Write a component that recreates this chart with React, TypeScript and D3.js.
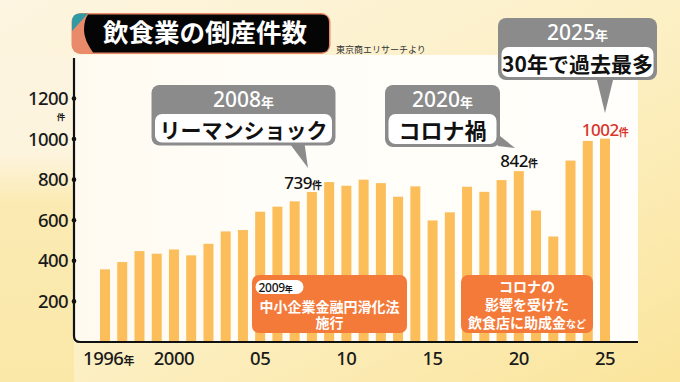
import React from "react";
import * as d3 from "d3";

const years = [1996,1997,1998,1999,2000,2001,2002,2003,2004,2005,2006,2007,2008,2009,2010,2011,2012,2013,2014,2015,2016,2017,2018,2019,2020,2021,2022,2023,2024,2025];
const values = [358,394,448,435,456,427,484,545,552,642,667,693,739,788,770,800,783,716,767,599,639,765,740,798,842,648,520,894,991,1002];
const yTicks = [200,400,600,800,1000,1200];
const xTickYears = [1996,2000,2005,2010,2015,2020,2025];
const xTickLabels = ["1996","2000","05","10","15","20","25"];

const W = 680, H = 382;
const JP = "'Noto Sans CJK JP', 'Noto Sans', sans-serif";
const NUM = "'Noto Sans', 'Open Sans', sans-serif";
const BAR = "#fbbe5b";
const ORANGE = "#f47a3a";
const GRAY = "#8b8b8b";

export default function App() {
  const step = 500 / 29;
  const x = d3.scaleBand<number>().domain(years).range([105 - step / 2, 605 + step / 2]).paddingInner(0.42).paddingOuter(0.21);
  const y = d3.scaleLinear().domain([0, 1200]).range([342, 98.5]);
  const bw = x.bandwidth();
  const cx = (yr: number) => (x(yr) as number) + bw / 2;
  const v = (yr: number) => values[years.indexOf(yr)];

  const callout = (x0: number, y0: number, x1: number, y1: number, yearLabel: string, text: string, fs: number, tail: string) => (
    <g>
      <path d={tail} fill={GRAY} />
      <rect x={x0} y={y0} width={x1 - x0} height={y1 - y0} rx={8} fill={GRAY} />
      <rect x={x0 + 3.5} y={y0 + 29} width={x1 - x0 - 7} height={y1 - y0 - 32} rx={7} fill="#fff" />
      <text x={(x0 + x1) / 2} y={y0 + 22} textAnchor="middle" fill="#fff" fontFamily={NUM} fontSize={21} fontWeight={500}>
        {yearLabel}<tspan fontFamily={JP} fontSize={13} fontWeight={700}>年</tspan>
      </text>
      <text x={(x0 + x1) / 2} y={y1 - 8} textAnchor="middle" fill="#111" fontFamily={JP} fontSize={fs} fontWeight={700}>{text}</text>
    </g>
  );

  return (
    <svg width={W} height={H} style={{ position: "fixed", left: 0, top: 0 }} xmlns="http://www.w3.org/2000/svg">
      <defs>
        <linearGradient id="bg" x1="0" y1="0" x2="1" y2="1">
          <stop offset="0" stopColor="#fdf5e1" />
          <stop offset="0.5" stopColor="#fcf0c6" />
          <stop offset="1" stopColor="#fbe59c" />
        </linearGradient>
        <linearGradient id="plot" x1="0" y1="0" x2="1" y2="0">
          <stop offset="0" stopColor="#fffaf0" />
          <stop offset="0.3" stopColor="#fffdf7" />
          <stop offset="1" stopColor="#fffefa" />
        </linearGradient>
        <linearGradient id="leftFade" x1="0" y1="0" x2="0" y2="1">
          <stop offset="0" stopColor="#fdf4df" stopOpacity="1" />
          <stop offset="0.3" stopColor="#fdf4df" stopOpacity="0.9" />
          <stop offset="0.45" stopColor="#fbebb3" stopOpacity="1" />
          <stop offset="1" stopColor="#fae8a8" stopOpacity="1" />
        </linearGradient>
      </defs>
      <rect x={0} y={0} width={W} height={H} fill="url(#bg)" />
      <rect x={0} y={55} width={74} height={327} fill="url(#leftFade)" />
      <rect x={74} y={55} width={564} height={287} fill="url(#plot)" />

      {/* title */}
      <rect x={71.5} y={13} width={259} height={41} rx={9} fill="#e98a6b" />
      <path d="M88,14.5 L321,14.5 Q329,14.5 329,22.5 L329,45 Q329,52.5 321,52.5 L93,52.5 Q84,40 84,30 Q84,20 88,14.5 Z" fill="#050505" />
      <path d="M80,13.5 L88,13.5 L72,31 L72,21.5 Q72,13.5 80,13.5 Z" fill="#2f9aa3" />
      <text x={103} y={42} fill="#fff" fontFamily={JP} fontSize={25.5} fontWeight={700}>飲食業の倒産件数</text>
      <text x={336} y={53} fill="#333" fontFamily={JP} fontSize={9}>東京商エリサーチより</text>

      {/* bars */}
      {years.map((yr, i) => (
        <rect key={yr} x={x(yr)} y={y(values[i])} width={bw} height={y(0) - y(values[i])} fill={BAR} />
      ))}

      {/* axes */}
      <path d="M74,58 L74,336 Q74,342 80,342 L638,342" fill="none" stroke="#111" strokeWidth={2.2} />
      {yTicks.map((t) => (
        <g key={t}>
          <circle cx={74} cy={y(t)} r={2.3} fill="#111" />
          <text x={68} y={y(t) + 6.5} textAnchor="end" fill="#1a1a1a" fontFamily={NUM} fontSize={18.5} fontWeight={500} letterSpacing={-0.6}>{t}</text>
        </g>
      ))}
      <text x={61} y={120} textAnchor="middle" fill="#1a1a1a" fontFamily={JP} fontSize={8.5} fontWeight={700}>件</text>
      {xTickYears.map((yr, i) => (
        <text key={yr} x={cx(yr) + (i === 0 ? 3.5 : 0)} y={365} textAnchor="middle" fill="#1a1a1a" fontFamily={NUM} fontSize={18.5} fontWeight={500} letterSpacing={-0.5}>
          {xTickLabels[i]}{i === 0 ? <tspan fontFamily={JP} fontSize={11} fontWeight={700}>年</tspan> : null}
        </text>
      ))}

      {/* value labels */}
      <text x={cx(2008) - 9} y={y(v(2008)) - 3} textAnchor="middle" fill="#111" fontFamily={NUM} fontSize={17} fontWeight={500} letterSpacing={-0.5}>
        {v(2008)}<tspan fontFamily={JP} fontSize={10} fontWeight={700}>件</tspan>
      </text>
      <text x={cx(2020)} y={y(v(2020)) - 4} textAnchor="middle" fill="#111" fontFamily={NUM} fontSize={17} fontWeight={500} letterSpacing={-0.5}>
        {v(2020)}<tspan fontFamily={JP} fontSize={10} fontWeight={700}>件</tspan>
      </text>
      <text x={cx(2025)} y={y(v(2025)) - 3} textAnchor="middle" fill="#d8352b" fontFamily={NUM} fontSize={17} fontWeight={500} letterSpacing={-0.5}>
        {v(2025)}<tspan fontFamily={JP} fontSize={10} fontWeight={700}>件</tspan>
      </text>

      {/* callouts */}
      {callout(151.5, 85, 335.5, 145.5, "2008", "リーマンショック", 21, "M287,140 L304,140 L308,168 Z")}
      {callout(385, 85, 500, 147, "2020", "コロナ禍", 22, "M490,128 L498,146 L515,148 Z")}
      {callout(498, 18, 657, 80, "2025", "30年で過去最多", 21, "M596,76 L614,76 L605,113 Z")}

      {/* orange boxes */}
      <rect x={252} y={275} width={155} height={58} rx={7} fill={ORANGE} />
      <rect x={255.5} y={280} width={48} height={14} rx={7} fill="#fff" />
      <text x={258.5} y={291.5} fill="#111" fontFamily={NUM} fontSize={12} fontWeight={500} letterSpacing={-0.3}>
        2009<tspan fontFamily={JP} fontSize={8} fontWeight={700}>年</tspan>
      </text>
      <text textAnchor="middle" fill="#fff" fontFamily={JP} fontSize={14} fontWeight={700}>
        <tspan x={329.5} y={311.5}>中小企業金融円滑化法</tspan>
        <tspan x={329.5} y={327.5}>施行</tspan>
      </text>

      <rect x={461} y={275} width={132} height={58} rx={7} fill={ORANGE} />
      <text textAnchor="middle" fill="#fff" fontFamily={JP} fontSize={14} fontWeight={700}>
        <tspan x={527} y={292}>コロナの</tspan>
        <tspan x={527} y={309.5}>影響を受けた</tspan>
        <tspan x={527} y={327.5}>飲食店に助成金<tspan fontSize={10}>など</tspan></tspan>
      </text>
    </svg>
  );
}
